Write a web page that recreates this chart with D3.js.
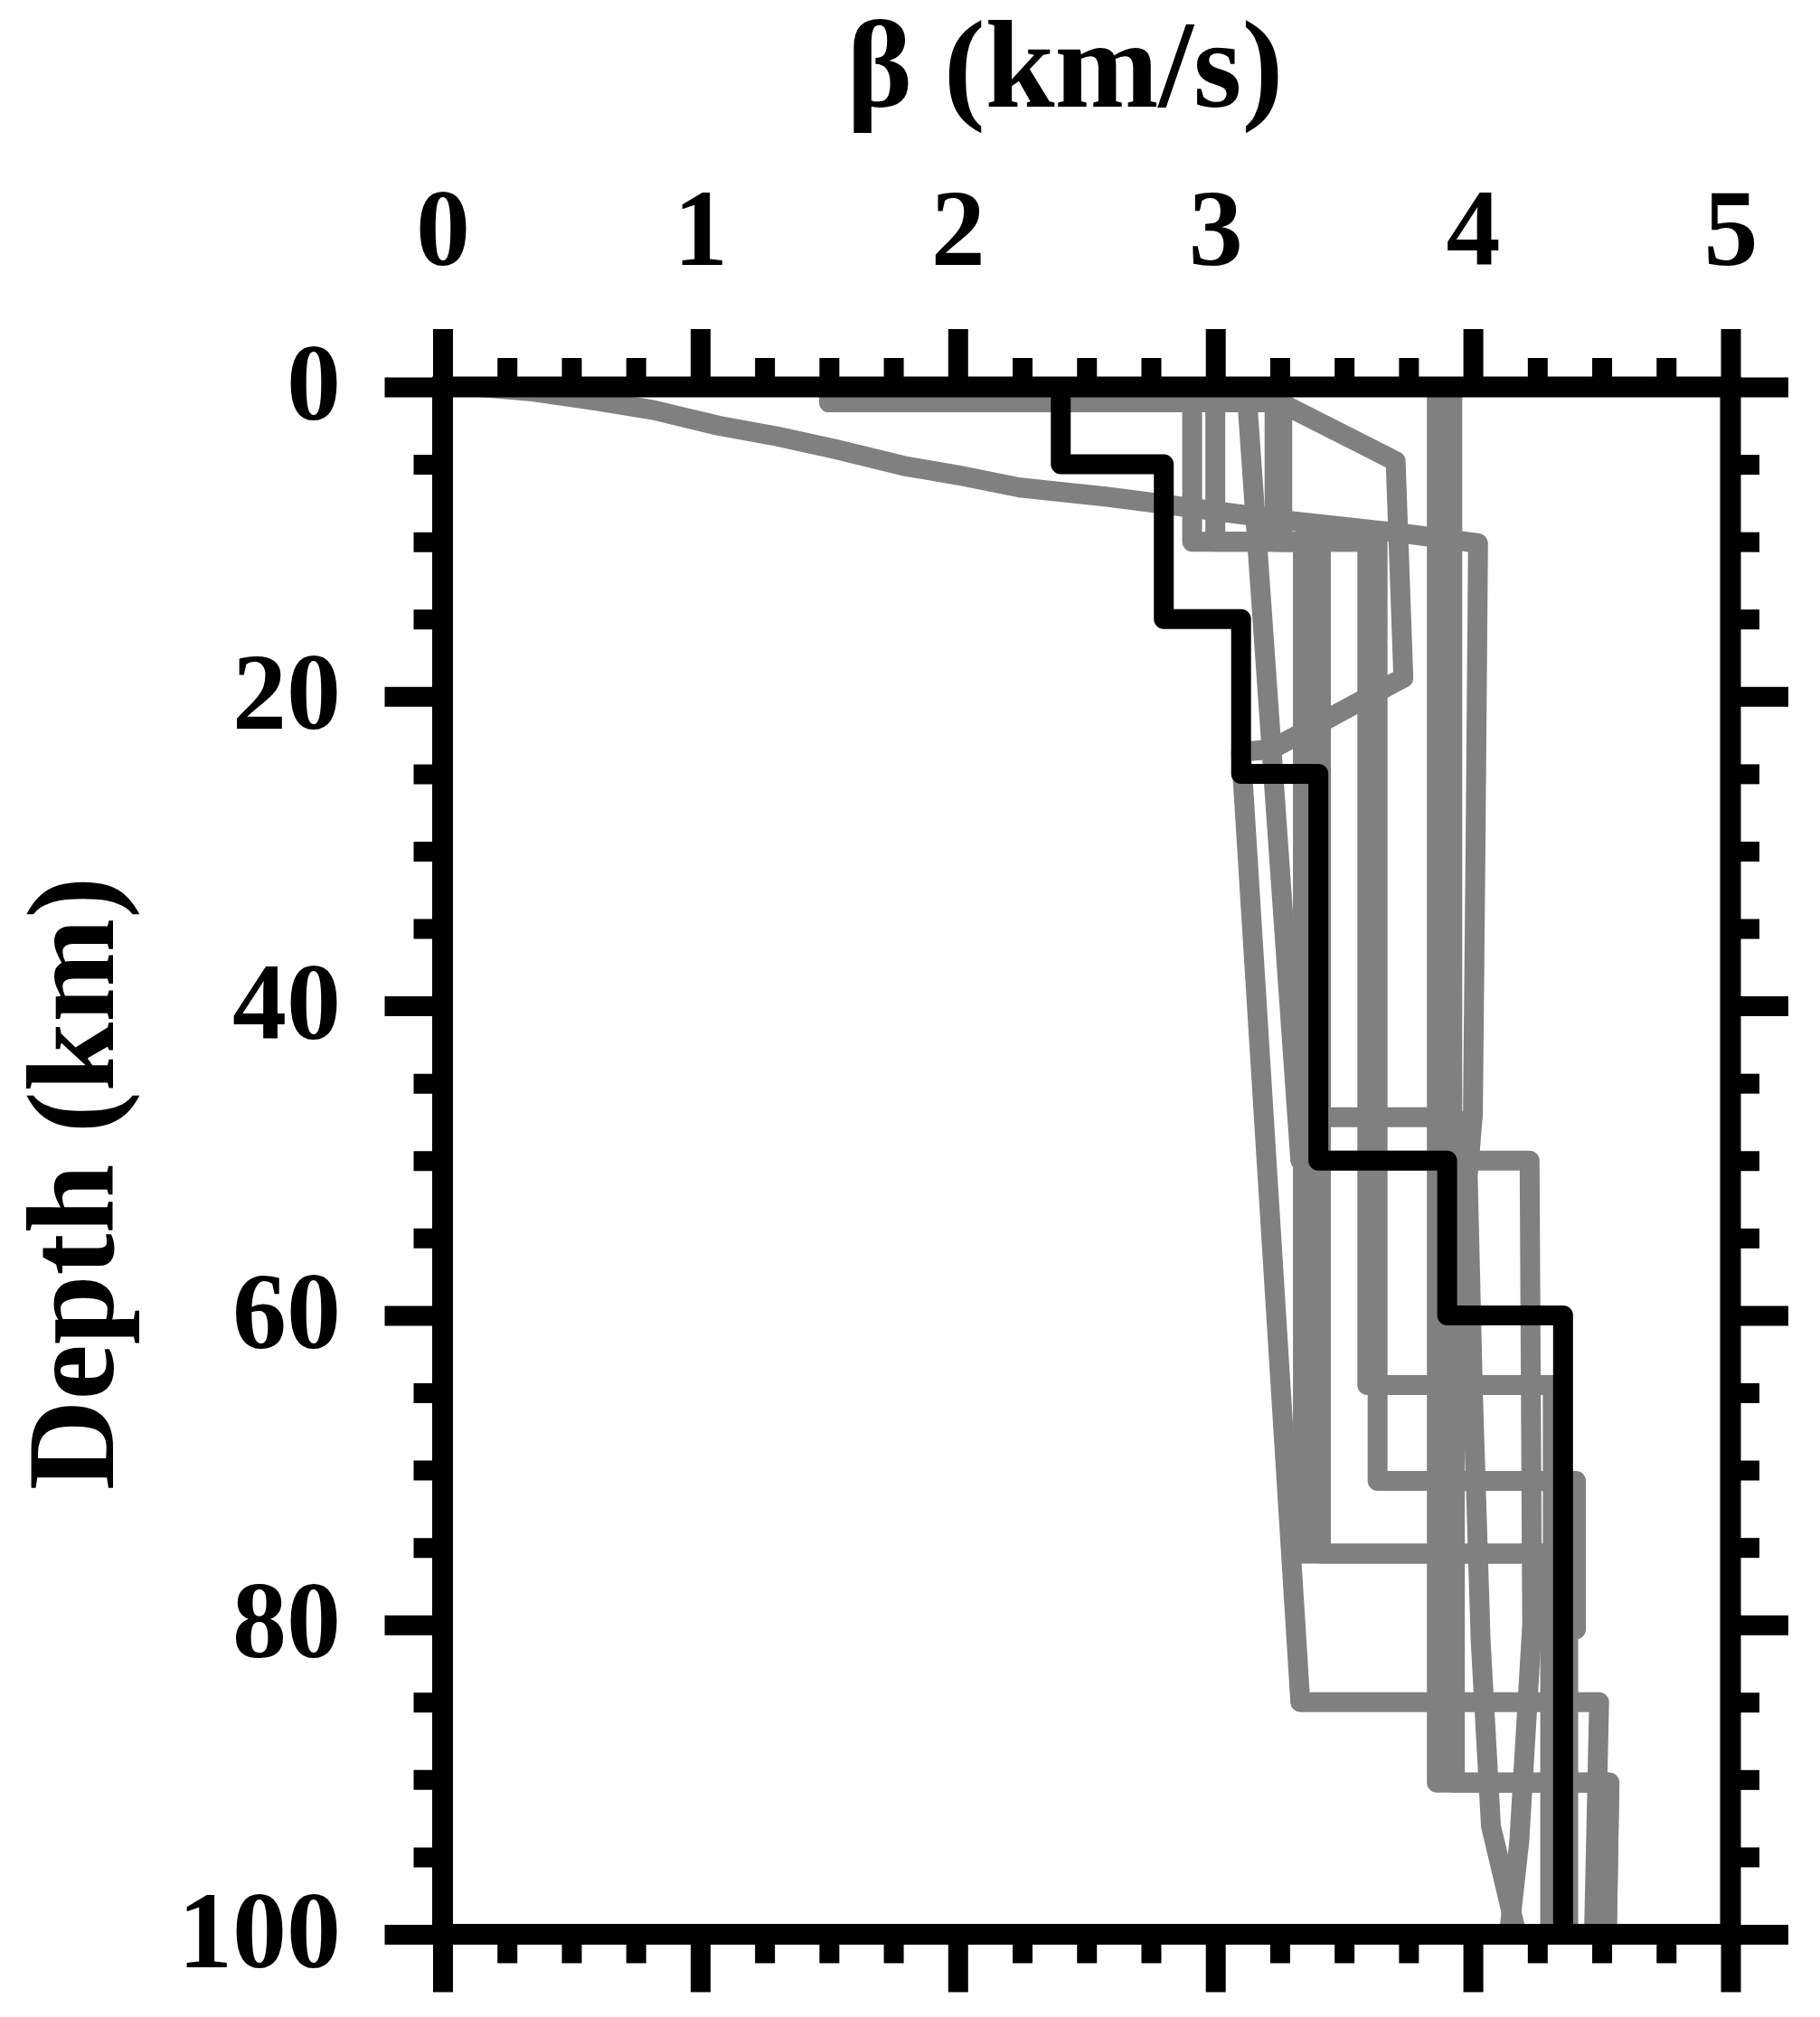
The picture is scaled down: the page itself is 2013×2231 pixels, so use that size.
<!DOCTYPE html>
<html>
<head>
<meta charset="utf-8">
<script src="https://cdn.jsdelivr.net/npm/d3@7"></script>
<style>
body { margin: 0; background: #fff; }
</style>
</head>
<body>
<div id="chart"></div>
<script>
// tick values
var xTicks = [0, 1, 2, 3, 4, 5];
var yTicks = [0, 20, 40, 60, 80, 100];

// reference model (black), pairs of [beta km/s, depth km]
var refModel = [[2.4, 0], [2.4, 5], [2.8, 5], [2.8, 15], [3.1, 15], [3.1, 25], [3.4, 25],
    [3.4, 50], [3.9, 50], [3.9, 60], [4.35, 60], [4.35, 100]];

// grey models
var curveModel = [[0.14, 0], [0.35, 0.3], [0.6, 0.9], [0.82, 1.5], [1.07, 2.5], [1.3, 3.2],
    [1.52, 4.0], [1.79, 5.1], [2.0, 5.7], [2.24, 6.5], [2.58, 7.1], [2.81, 7.6], [3.29, 8.65],
    [3.7, 9.4], [4.02, 10.1], [4.01, 30], [4.0, 47], [3.98, 51], [4.0, 65], [4.03, 81],
    [4.07, 93], [4.17, 100]];
var sedModel = [[0.15, 0], [1.5, 0], [1.5, 1], [3.25, 1], [3.7, 4.8], [3.73, 18.8], [3.22, 23.4],
    [3.1, 23.6], [3.33, 85], [4.49, 85], [4.47, 100]];
var gradModel = [[3.12, 0], [3.33, 50], [4.22, 50], [4.23, 80], [4.18, 94], [4.14, 100]];
var modelA = [[2.91, 0], [2.91, 10], [3.41, 10], [3.41, 47.2], [3.93, 47.2], [3.93, 90.2],
    [4.53, 90.2], [4.52, 100]];
var modelB = [[3.0, 0], [3.0, 10], [3.34, 10], [3.34, 75.4], [4.3, 75.4], [4.3, 100]];
var modelC = [[3.23, 0], [3.23, 10], [3.59, 10], [3.59, 64.5], [4.31, 64.5], [4.31, 100]];
var modelD = [[3.26, 0], [3.26, 10], [3.63, 10], [3.63, 70.7], [4.4, 70.7], [4.4, 80.3],
    [4.37, 80.3], [4.37, 100]];
var modelE = [[3.25, 0], [3.25, 10], [3.41, 10], [3.41, 75.4], [4.3, 75.4]];
var modelF = [[3.86, 0], [3.86, 90.2], [4.53, 90.2], [4.52, 100]];
var modelG = [[3.92, 0], [3.92, 90.2], [4.53, 90.2]];

var grayModels = [curveModel, sedModel, gradModel, modelA, modelB, modelC, modelD, modelE, modelF, modelG];

var serif = "'Liberation Serif', 'Times New Roman', Times, serif";

var svg = d3.select("#chart")
    .append("svg")
    .attr("width", 2013)
    .attr("height", 2231);

var x = d3.scaleLinear().domain([0, 5]).range([489.5, 1914]);
var y = d3.scaleLinear().domain([0, 100]).range([428, 2139.5]);

var line = d3.line()
    .x(function (d) { return x(d[0]); })
    .y(function (d) { return y(d[1]); });

svg.selectAll(".model")
    .data(grayModels)
    .enter()
    .append("path")
    .attr("class", "model")
    .attr("d", line)
    .attr("fill", "none")
    .attr("stroke", "#808080")
    .attr("stroke-width", 22)
    .attr("stroke-linejoin", "round");

svg.append("path")
    .datum(refModel)
    .attr("d", line)
    .attr("fill", "none")
    .attr("stroke", "#000")
    .attr("stroke-width", 22)
    .attr("stroke-linejoin", "round");

// frame
svg.append("rect")
    .attr("x", x(0))
    .attr("y", y(0))
    .attr("width", x(5) - x(0))
    .attr("height", y(100) - y(0))
    .attr("fill", "none")
    .attr("stroke", "#000")
    .attr("stroke-width", 23);

var minorX = d3.range(0, 5.001, 0.25).filter(function (v) { return v % 1 !== 0; });
var minorY = d3.range(0, 100.1, 5).filter(function (v) { return v % 20 !== 0; });

function drawAxis(axis, tx, ty) {
    var g = svg.append("g")
        .attr("transform", "translate(" + tx + "," + ty + ")")
        .call(axis);
    g.select(".domain").remove();
    g.selectAll(".tick line")
        .attr("stroke", "#000")
        .attr("stroke-width", 22);
    g.attr("font-family", serif)
        .attr("font-size", 120)
        .attr("font-weight", "bold");
    return g;
}

var fmt = d3.format("d");

// top
drawAxis(d3.axisTop(x).tickValues(xTicks).tickSize(64).tickPadding(71).tickFormat(fmt), 0, y(0));
drawAxis(d3.axisTop(x).tickValues(minorX).tickSize(32).tickFormat(""), 0, y(0));
// bottom
drawAxis(d3.axisBottom(x).tickValues(xTicks).tickSize(64).tickFormat(""), 0, y(100));
drawAxis(d3.axisBottom(x).tickValues(minorX).tickSize(32).tickFormat(""), 0, y(100));
// left
var left = drawAxis(d3.axisLeft(y).tickValues(yTicks).tickSize(64).tickPadding(48.5).tickFormat(fmt), x(0), 0);
left.selectAll(".tick text").attr("dy", "0.296em");
drawAxis(d3.axisLeft(y).tickValues(minorY).tickSize(32).tickFormat(""), x(0), 0);
// right
drawAxis(d3.axisRight(y).tickValues(yTicks).tickSize(64).tickFormat(""), x(5), 0);
drawAxis(d3.axisRight(y).tickValues(minorY).tickSize(32).tickFormat(""), x(5), 0);

// titles
svg.append("text")
    .attr("x", 1178)
    .attr("y", 118)
    .attr("text-anchor", "middle")
    .attr("font-family", serif)
    .attr("font-size", 138)
    .attr("font-weight", "bold")
    .text("β (km/s)");

svg.append("text")
    .attr("transform", "translate(125,1309) rotate(-90)")
    .attr("text-anchor", "middle")
    .attr("font-family", serif)
    .attr("font-size", 138)
    .attr("font-weight", "bold")
    .text("Depth (km)");
</script>
</body>
</html>
